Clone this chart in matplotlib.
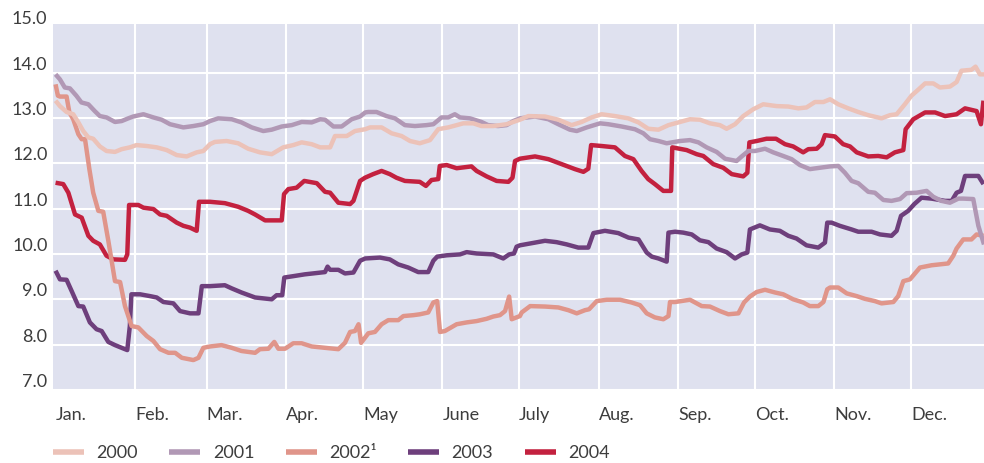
import matplotlib
matplotlib.use("Agg")
import matplotlib.pyplot as plt

plt.rcParams['font.family'] = ['Lato', 'DejaVu Sans']

months = ['Jan.', 'Feb.', 'Mar.', 'Apr.', 'May', 'June', 'July', 'Aug.',
          'Sep.', 'Oct.', 'Nov.', 'Dec.']
month_start_day = [0, 31, 59, 90, 120, 151, 181, 212, 243, 273, 304, 334]
y_ticks = [7, 8, 9, 10, 11, 12, 13, 14, 15]
labels = ['2000', '2001', '2002\u00b9', '2003', '2004']

d2000 = [0, 1.7, 4.3, 6.9, 8.9, 10.8, 12.8, 14.7, 17.3, 19.9, 23.2, 25.8, 29, 31.6, 35.6, 39.5, 43.4, 47.3, 51.2, 55.1, 57.7, 60.3,
         62.2, 66.8, 71.3, 75.2, 79.8, 84.4, 88.9, 92.8, 96.1, 100, 103.3, 107.2, 109.1, 113.7, 116.9, 120.9,
         122.8, 127.3, 131.2, 135.1, 138.4, 142.2, 146.2, 149.4, 153.3, 156.6, 159.2, 163.1, 166.3, 170.9, 176.1, 181.3,
         184.6, 191.1, 196.3, 201.5, 205.4, 209.3, 213.2, 218.4, 223.6, 227.6, 231.4, 235.4, 239.3,
         243.8, 247.7, 251.6, 255.5, 259.4, 262, 265.3, 268.5, 272.4, 276.3, 281.5, 286.1, 290, 293.2, 296.5, 299.8, 302.4,
         305.6, 309.5, 313.4, 317.3, 322.5, 325.8, 328.4, 331.6, 334.2, 336.8, 339.5, 342.7, 345.3, 349.2, 351.8, 353.7, 357.6, 359.2, 360.9, 362.5]
v2000 = [13.38, 13.26, 13.13, 13.08, 12.90, 12.71, 12.57, 12.54, 12.37, 12.27, 12.25, 12.31, 12.35, 12.40, 12.38, 12.35, 12.29, 12.18, 12.15, 12.24, 12.27, 12.42,
         12.47, 12.49, 12.44, 12.32, 12.24, 12.20, 12.35, 12.40, 12.46, 12.42, 12.35, 12.35, 12.60, 12.60, 12.71, 12.75,
         12.79, 12.79, 12.66, 12.60, 12.49, 12.44, 12.51, 12.75, 12.79, 12.84, 12.88, 12.88, 12.82, 12.82, 12.86, 12.96,
         13.04, 13.03, 12.96, 12.84, 12.91, 13.01, 13.08, 13.04, 12.99, 12.90, 12.76, 12.74, 12.84,
         12.91, 12.97, 12.96, 12.88, 12.84, 12.76, 12.86, 13.04, 13.19, 13.30, 13.26, 13.25, 13.21, 13.23, 13.35, 13.35, 13.41,
         13.30, 13.21, 13.13, 13.06, 12.99, 13.06, 13.08, 13.30, 13.49, 13.62, 13.76, 13.76, 13.67, 13.69, 13.79, 14.04, 14.06, 14.13, 13.96, 13.96]

d2001 = [0, 1.7, 3.6, 5.6, 8.1, 10.1, 12.8, 15.3, 17.3, 19.9, 23.2, 25.8, 28.4, 30.3, 34.3, 38.2, 41.4, 44.7, 49.9, 53.8, 57.7, 60.3,
         63.5, 68.8, 72.6, 76.6, 81.1, 84.4, 88.3, 92.2, 96.1, 100, 103.3, 105.2, 108.5, 111.7, 115.6, 118.9, 120.9,
         122.1, 125.3, 129.2, 132.5, 136.4, 140.3, 144.8, 147.5, 150.7, 153.3, 155.9, 157.9, 161.8, 166.3, 168.9, 172.8, 176.1, 178.7, 181.3,
         187.2, 192.4, 196.3, 200.8, 203.5, 207.4, 212.6, 215.8, 221, 226.2, 229.5, 232.1, 235.4, 238.6,
         243.8, 247.7, 251, 254.2, 258.1, 261.4, 265.9, 267.9, 270.5, 273.1, 277, 280.2, 284.1, 287.4, 290.6, 294.5, 298.4, 302.4,
         305.6, 308.2, 310.8, 313.4, 317.3, 319.9, 323.2, 326.4, 329.7, 332.3, 336.2, 340.1, 342.7, 345.9, 349.2, 352.5, 354.4, 358.3, 360.3, 362.5]
v2001 = [13.96, 13.85, 13.67, 13.65, 13.49, 13.34, 13.30, 13.15, 13.04, 13.01, 12.91, 12.93, 12.99, 13.03, 13.08, 13.01, 12.96, 12.86, 12.79, 12.82, 12.86, 12.93,
         12.99, 12.97, 12.90, 12.79, 12.71, 12.74, 12.81, 12.84, 12.91, 12.90, 12.97, 12.96, 12.81, 12.81, 12.97, 13.03, 13.12,
         13.13, 13.13, 13.04, 12.99, 12.84, 12.82, 12.84, 12.86, 13.01, 13.01, 13.08, 13.01, 12.99, 12.91, 12.84, 12.82, 12.84, 12.93, 12.99,
         13.03, 12.97, 12.86, 12.74, 12.71, 12.79, 12.88, 12.86, 12.81, 12.75, 12.66, 12.53, 12.49, 12.44,
         12.49, 12.51, 12.46, 12.35, 12.25, 12.10, 12.05, 12.15, 12.27, 12.27, 12.32, 12.24, 12.16, 12.09, 11.96, 11.87, 11.90, 11.93,
         11.94, 11.79, 11.61, 11.56, 11.37, 11.35, 11.19, 11.17, 11.21, 11.34, 11.35, 11.39, 11.26, 11.17, 11.13, 11.22, 11.22, 11.21, 10.62, 10.21]

d2002 = [0, 0.9, 1.7, 4.3, 5.4, 6.9, 8.9, 10.2, 11.5, 13.2, 14.7, 16.7, 18.6, 20.6, 23.2, 25.2, 27.1, 29.7, 32.3, 35.6, 38.2, 40.8, 44.1, 46.7, 49.3, 53.8, 55.8, 57.7, 60.3,
         64.8, 68.8, 72.6, 77.9, 79.8, 83.1, 85.4, 87, 89.6, 92.8, 96.1, 100, 105.2, 110.4, 113, 115, 116.9, 118.3, 119.3,
         122.1, 124.7, 127.3, 129.9, 133.8, 135.8, 139.7, 142.3, 145.5, 147.5, 149, 150.1, 152, 156.6, 160.5, 164.4, 168.3, 170.9, 173.5, 175.5, 177.1, 178.1, 181.3,
         182, 185.3, 191.1, 196.3, 200.2, 203.5, 206.7, 208.3, 211.3, 215.2, 220.4, 224.9, 228.2, 230.8, 234, 237.3, 239.3, 239.9,
         241.9, 247.7, 252.3, 255.5, 259.4, 262.7, 266.6, 268.8, 271.1, 273.7, 277, 280.9, 284.1, 288, 291.9, 294.5, 297.8, 299.8, 301.3,
         302.4, 305.6, 308.9, 312.8, 316, 319.9, 322.5, 327.1, 329, 331, 333.6, 337.5, 342, 345.3, 348.5, 350.5, 351.8, 354.4, 357.6, 359.6, 362.3]
v2002 = [13.74, 13.49, 13.47, 13.47, 13.12, 12.97, 12.64, 12.53, 12.53, 11.87, 11.35, 10.95, 10.93, 10.29, 9.40, 9.38, 8.85, 8.41, 8.38, 8.19, 8.08, 7.90, 7.82, 7.82, 7.71, 7.66, 7.71, 7.93, 7.96,
         7.99, 7.93, 7.86, 7.82, 7.90, 7.91, 8.06, 7.91, 7.91, 8.03, 8.03, 7.96, 7.93, 7.90, 8.04, 8.28, 8.30, 8.45, 8.04,
         8.25, 8.28, 8.45, 8.54, 8.54, 8.63, 8.65, 8.67, 8.71, 8.93, 8.96, 8.28, 8.30, 8.45, 8.49, 8.52, 8.57, 8.62, 8.65, 8.74, 9.06, 8.56, 8.63,
         8.71, 8.85, 8.84, 8.82, 8.76, 8.69, 8.76, 8.78, 8.96, 8.99, 8.99, 8.93, 8.87, 8.69, 8.60, 8.56, 8.63, 8.94,
         8.94, 8.99, 8.85, 8.84, 8.74, 8.67, 8.69, 8.93, 9.06, 9.16, 9.21, 9.15, 9.11, 9.00, 8.93, 8.85, 8.85, 8.94, 9.22,
         9.26, 9.26, 9.13, 9.07, 9.01, 8.96, 8.91, 8.94, 9.07, 9.40, 9.44, 9.70, 9.75, 9.77, 9.79, 9.96, 10.12, 10.32, 10.32, 10.43, 10.40]

d2003 = [0, 1.7, 4.3, 6.3, 8.9, 10.8, 13.4, 16, 18, 20.6, 23.2, 25.8, 28, 29, 29.6, 33, 36.9, 39.5, 42.1, 46, 48.6, 52.5, 55.8, 57.1, 60.3,
         66.1, 68.8, 72.6, 77.9, 84.4, 86.3, 88.5, 89.3, 92.8, 97.3, 105.2, 106.2, 107.2, 110.4, 113, 116.3, 118.9, 120.9,
         126.7, 130.5, 133.8, 137.7, 141.6, 145.5, 147.5, 149, 152.7, 157.9, 160.5, 164.4, 170.9, 174.8, 177.1, 179, 180, 181.3,
         187.2, 191.1, 195.6, 199.6, 204.1, 208, 210, 214.5, 219.7, 223.7, 227.6, 230.8, 232.8, 235.4, 238.6, 239.3, 241.9,
         245.1, 248.4, 251.6, 254.9, 258.1, 262, 265.3, 267.9, 270.1, 271.1, 275, 278.9, 282.8, 286.1, 289.3, 293.2, 297.8, 300.4, 301.3,
         303, 306.2, 310.8, 313.4, 318.6, 321.9, 326.4, 328.4, 330.1, 332.9, 335.3, 338.1, 342, 347.3, 349.9, 351.8, 353.5, 355.1, 360.3, 362.3]
v2003 = [9.63, 9.44, 9.43, 9.18, 8.85, 8.84, 8.49, 8.34, 8.30, 8.06, 7.99, 7.93, 7.88, 8.41, 9.11, 9.11, 9.07, 9.04, 8.94, 8.91, 8.74, 8.69, 8.69, 9.29, 9.29,
         9.31, 9.24, 9.15, 9.04, 9.00, 9.09, 9.09, 9.48, 9.51, 9.55, 9.60, 9.72, 9.65, 9.65, 9.57, 9.59, 9.85, 9.90,
         9.92, 9.88, 9.77, 9.70, 9.60, 9.60, 9.85, 9.94, 9.97, 9.99, 10.04, 10.01, 9.99, 9.90, 9.99, 10.01, 10.16, 10.19,
         10.25, 10.29, 10.26, 10.21, 10.14, 10.14, 10.46, 10.51, 10.46, 10.36, 10.32, 10.03, 9.94, 9.90, 9.83, 10.47, 10.49,
         10.47, 10.43, 10.30, 10.26, 10.12, 10.04, 9.90, 9.99, 10.03, 10.54, 10.63, 10.54, 10.51, 10.40, 10.34, 10.19, 10.14, 10.25, 10.69,
         10.69, 10.62, 10.54, 10.49, 10.49, 10.43, 10.40, 10.51, 10.84, 10.95, 11.10, 11.24, 11.22, 11.17, 11.17, 11.35, 11.39, 11.72, 11.72, 11.54]

d2004 = [0, 3, 5, 7.6, 10.2, 12.8, 14.7, 17.3, 19.9, 22.6, 27.1, 28, 28.7, 32.3, 34.3, 38.2, 40.8, 43.4, 47.3, 49.9, 52.5, 55.1, 56, 60.3,
         66.1, 71.3, 75.2, 77.9, 81.8, 88.3, 89.2, 90.9, 94.1, 97.1, 102, 105.2, 107.2, 110.4, 115, 116.3, 118.9,
         120.8, 124, 127.3, 130.5, 133.1, 136.4, 142.2, 144.6, 146.8, 149.4, 150, 152.7, 156.6, 162.4, 164.4, 168.3, 172.2, 176.8, 178.4, 179.4, 181.3,
         187.2, 192.4, 197.6, 202.8, 206.1, 208, 209.1, 213.2, 218.4, 222.3, 225.6, 228.8, 231.4, 234, 237.3, 240.3, 240.8,
         246.4, 250.3, 252.9, 256.8, 260.7, 264, 268.5, 270.1, 270.9, 273.7, 277.6, 281.3, 284.8, 288, 291.9, 293.9, 297.2, 299.1, 300.4,
         304.3, 307.5, 310.2, 312.8, 317.3, 321.2, 324.5, 327.7, 331, 331.9, 334.9, 339.5, 343.4, 347.3, 351.8, 355.1, 359.6, 361.3, 362.3]
v2004 = [11.57, 11.54, 11.35, 10.87, 10.80, 10.40, 10.29, 10.21, 9.96, 9.88, 9.87, 9.99, 11.08, 11.08, 11.02, 10.99, 10.87, 10.84, 10.69, 10.62, 10.58, 10.51, 11.15, 11.15,
         11.12, 11.04, 10.95, 10.87, 10.74, 10.74, 11.32, 11.43, 11.46, 11.61, 11.56, 11.37, 11.35, 11.13, 11.10, 11.17, 11.61,
         11.68, 11.76, 11.83, 11.76, 11.68, 11.61, 11.59, 11.50, 11.63, 11.65, 11.94, 11.96, 11.89, 11.93, 11.83, 11.71, 11.61, 11.59, 11.68, 12.05, 12.10,
         12.15, 12.09, 11.98, 11.87, 11.81, 11.88, 12.40, 12.38, 12.35, 12.16, 12.09, 11.83, 11.65, 11.54, 11.39, 11.39, 12.35,
         12.29, 12.20, 12.16, 11.98, 11.90, 11.76, 11.71, 11.79, 12.46, 12.49, 12.54, 12.54, 12.42, 12.37, 12.24, 12.31, 12.32, 12.42, 12.62,
         12.59, 12.42, 12.37, 12.24, 12.15, 12.16, 12.13, 12.24, 12.29, 12.75, 12.97, 13.12, 13.12, 13.04, 13.08, 13.21, 13.15, 12.86, 13.38]

series_days = [d2000, d2001, d2002, d2003, d2004]
series_vals = [v2000, v2001, v2002, v2003, v2004]
colors = ['#ecc2b8', '#b198b5', '#e0958a', '#6e3f7c', '#c3213f']

text_color = '#3d3d3d'
W, H = 984, 463
fig = plt.figure(figsize=(W / 100, H / 100), dpi=100)
ax = fig.add_axes([53 / W, 1 - 390 / H, (984 - 53) / W, (390 - 24) / H])
ax.set_facecolor('#dfe1ef')

handles = []
for i in range(len(labels)):
    ln, = ax.plot(series_days[i], series_vals[i], color=colors[i], lw=3.2,
                  solid_joinstyle='round', solid_capstyle='butt',
                  zorder=10 - i, label=labels[i])
    handles.append(ln)

ax.set_xlim(-1, 362.5)
ax.set_ylim(7, 15.07)
ax.set_xticks(month_start_day)
ax.set_xticklabels(months)
ax.set_yticks(y_ticks)
ax.set_yticklabels([f'{v:.1f}' for v in y_ticks])
for s in ax.spines.values():
    s.set_visible(False)
ax.grid(True, color='white', lw=1.5, zorder=0)
ax.set_axisbelow(True)
ax.get_ygridlines()[-1].set_visible(False)
ax.get_xgridlines()[0].set_visible(False)
ax.tick_params(axis='both', length=0, labelsize=13, colors=text_color)
ax.tick_params(axis='x', pad=12)
ax.tick_params(axis='y', pad=4)
for t in ax.get_xticklabels():
    t.set_ha('left')
for t in ax.get_yticklabels():
    t.set_va('bottom')

leg = fig.legend(handles=handles, labels=labels, loc='center left',
                 bbox_to_anchor=(53 / W, 1 - 453 / H), ncol=5, frameon=False,
                 fontsize=13, handlelength=1.7, handletextpad=0.7,
                 columnspacing=1.75, borderpad=0, borderaxespad=0)
for t in leg.get_texts():
    t.set_color(text_color)
for lh in leg.get_lines():
    lh.set_linewidth(4)

fig.savefig('out.png', dpi=100)
